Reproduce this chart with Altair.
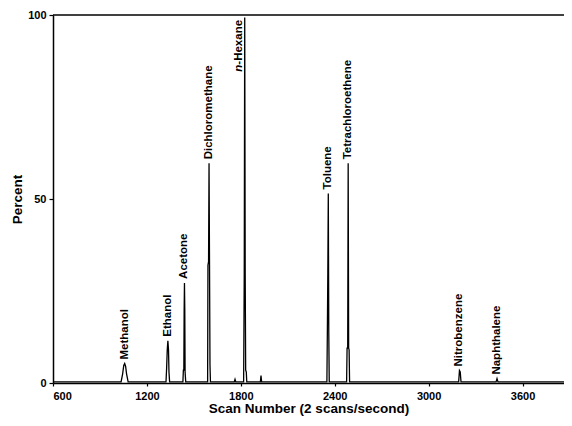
import altair as alt
import pandas as pd

# Chromatogram trace (scan number, percent)
trace_scan = [600, 1035, 1045, 1052, 1058, 1064, 1070, 1080,
              1322, 1326, 1330, 1334, 1338, 1341, 1345,
              1430, 1433, 1436, 1438, 1440, 1442, 1444, 1448,
              1588, 1590, 1594, 1597, 1600, 1603, 1606,
              1758, 1763, 1768,
              1818, 1822, 1825, 1828, 1831, 1835, 1838,
              1925, 1929, 1933,
              2350, 2353, 2356, 2359, 2362, 2365,
              2476, 2479, 2483, 2486, 2489, 2492, 2495,
              3192, 3197, 3202, 3207,
              3431, 3437, 3443,
              3865]
trace_pct = [0.3, 0.3, 2.5, 4.8, 5.3, 4.5, 2.5, 0.3,
             0.3, 4.0, 9.0, 11.5, 9.0, 3.0, 0.3,
             0.3, 3.5, 3.5, 20.0, 27.2, 20.0, 3.0, 0.3,
             0.3, 32.0, 33.0, 59.7, 33.0, 5.0, 0.3,
             0.3, 1.0, 0.3,
             0.3, 30.0, 99.3, 30.0, 3.5, 3.0, 0.3,
             0.3, 2.0, 0.3,
             0.3, 14.0, 30.0, 51.5, 14.0, 0.3,
             0.3, 9.5, 9.5, 59.7, 9.5, 9.0, 0.3,
             0.3, 3.4, 3.0, 0.3,
             0.3, 1.2, 0.3,
             0.3]

# Peak labels
compounds = ["Methanol", "Ethanol", "Acetone", "Dichloromethane",
             "Toluene", "Tetrachloroethene", "Nitrobenzene", "Naphthalene"]
label_scan = [1058, 1334, 1440, 1597, 2359, 2486, 3197, 3437]
label_pct = [5.3, 11.5, 27.2, 59.7, 51.5, 59.7, 3.4, 1.2]

hexane_scan = [1825]
hexane_pct = [86.5]

x_ticks = [600, 1200, 1800, 2400, 3000, 3600]
y_ticks = [0, 50, 100]

FONT = "Liberation Sans"
W, H = 511, 368

trace = pd.DataFrame({"scan": trace_scan, "pct": trace_pct})
labels = pd.DataFrame({"name": compounds, "scan": label_scan, "pct": label_pct})
hex_df = pd.DataFrame({"scan": hexane_scan, "pct": hexane_pct,
                       "a": ["n"], "b": ["-Hexane"]})

xscale = alt.Scale(domain=[600, 3865], nice=False, zero=False)
yscale = alt.Scale(domain=[0, 100], nice=False)

line = alt.Chart(trace).mark_line(color="black", strokeWidth=1.3).encode(
    x=alt.X("scan:Q", scale=xscale,
            axis=alt.Axis(title="Scan Number (2 scans/second)", values=x_ticks,
                          grid=False, tickSize=3, labelPadding=4, titlePadding=0,
                          format="d")),
    y=alt.Y("pct:Q", scale=yscale,
            axis=alt.Axis(title="Percent", values=y_ticks, grid=False,
                          tickSize=4, labelPadding=3, titlePadding=3)),
)

text = alt.Chart(labels).mark_text(
    angle=270, align="left", baseline="middle", dx=4,
    font=FONT, fontSize=11.5, fontWeight="bold", color="black"
).encode(x=alt.X("scan:Q", scale=xscale), y=alt.Y("pct:Q", scale=yscale), text="name:N")

hex_n = alt.Chart(hex_df).mark_text(
    angle=270, align="right", baseline="middle", dy=-6,
    font=FONT, fontSize=11.5, fontWeight="bold", fontStyle="italic", color="black"
).encode(x=alt.X("scan:Q", scale=xscale), y=alt.Y("pct:Q", scale=yscale), text="a:N")

hex_b = alt.Chart(hex_df).mark_text(
    angle=270, align="left", baseline="middle", dy=-6,
    font=FONT, fontSize=11.5, fontWeight="bold", color="black"
).encode(x=alt.X("scan:Q", scale=xscale), y=alt.Y("pct:Q", scale=yscale), text="b:N")

top_rule = alt.Chart(pd.DataFrame({"k": [0]})).mark_rule(color="black", strokeWidth=1.5).encode(
    y=alt.value(0), x=alt.value(0), x2=alt.value(W)
)

chart = alt.layer(line, text, hex_n, hex_b, top_rule).properties(
    width=W, height=H,
    background="white",
    autosize=alt.AutoSizeParams(type="none"),
    padding={"left": 45, "top": 7, "right": 0, "bottom": 35},
).configure_view(stroke=None).configure_axis(
    domainColor="black", domainWidth=1.5, tickColor="black", tickWidth=1.2,
    labelFont=FONT, labelFontSize=11, labelFontWeight="bold", labelColor="black",
    titleFont=FONT, titleFontSize=13.5, titleFontWeight="bold", titleColor="black",
)

chart.save("out.html", embed_options={"renderer": "svg", "actions": False})
